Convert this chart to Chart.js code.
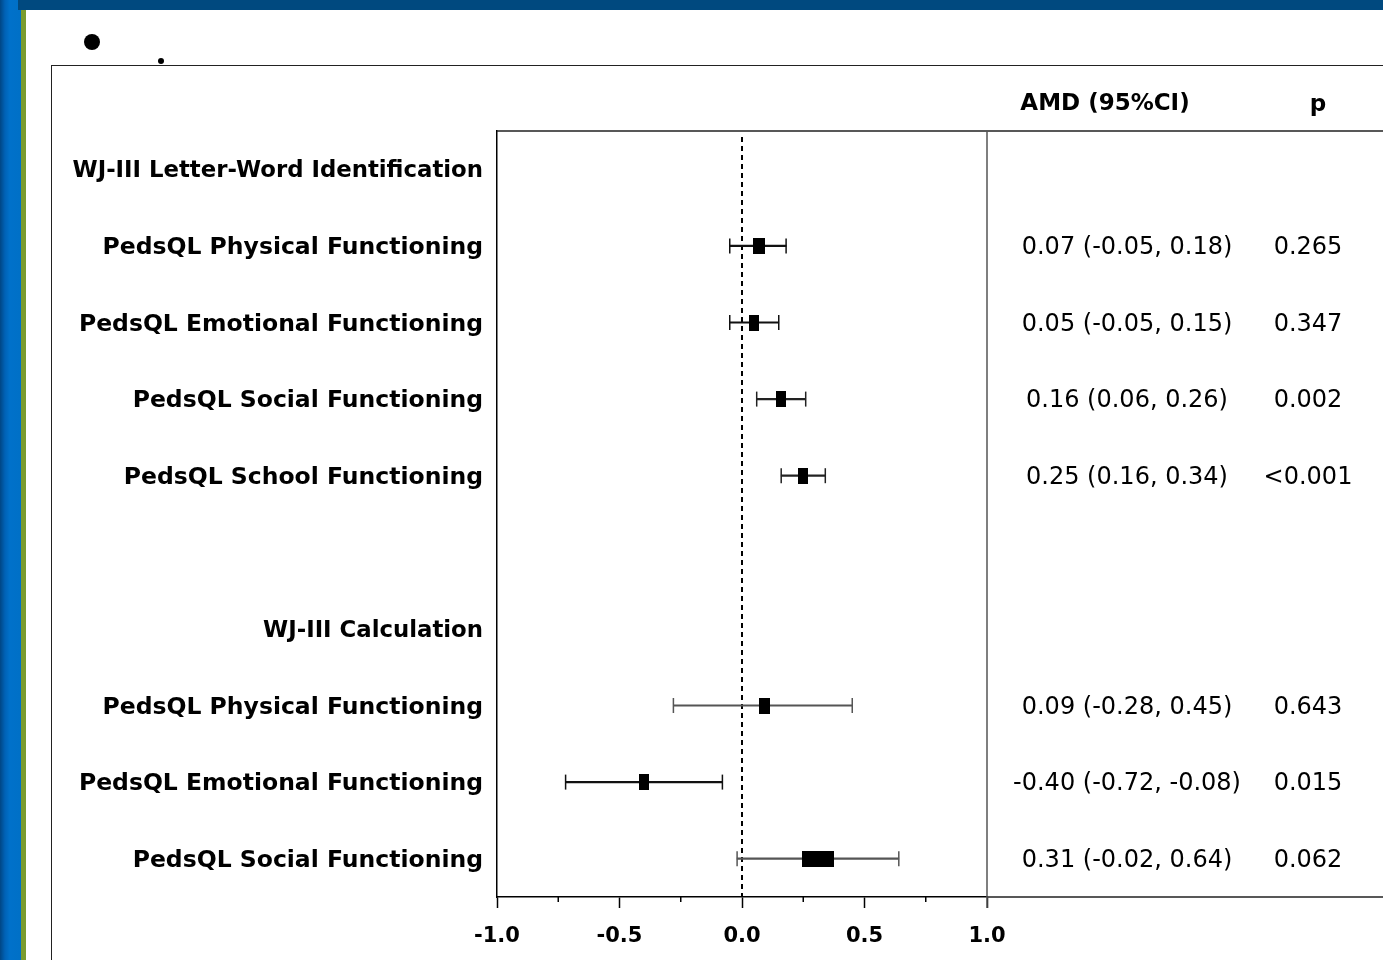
<!DOCTYPE html>
<html>
<head>
<meta charset="utf-8">
<script src="https://cdn.jsdelivr.net/npm/chart.js@4.4.1/dist/chart.umd.min.js"></script>
<style>
  body { margin: 0; background: #fff; overflow: hidden; width: 1383px; height: 960px; position: relative; }
  .franja { position: absolute; left: 0; top: 0; width: 21px; height: 960px; background: linear-gradient(to right, #004684 0px, #0062b6 5px, #0071ca 10px, #0070c6 21px); }
  .verde { position: absolute; left: 21px; top: 10px; width: 5px; height: 950px; background: #7b9c2f; }
  .barra { position: absolute; left: 18px; top: 0; width: 1365px; height: 10px; background: #00497f; }
  .punto { position: absolute; background: #000; border-radius: 50%; }
  .caja { position: absolute; left: 51px; top: 65px; width: 1400px; height: 1000px; border: 1.5px solid #222; box-sizing: border-box; }
  canvas { position: absolute; left: 0; top: 0; }
</style>
</head>
<body>
<div class="franja"></div>
<div class="verde"></div>
<div class="barra"></div>
<div class="punto" style="left:84px; top:34px; width:16px; height:16px;"></div>
<div class="punto" style="left:158px; top:58px; width:6px; height:6px;"></div>
<div class="caja"></div>
<canvas id="forest" width="1383" height="960"></canvas>

<script>
// rows of the forest plot (top to bottom)
const rowLabels = [
  'WJ-III Letter-Word Identification',
  'PedsQL Physical Functioning',
  'PedsQL Emotional Functioning',
  'PedsQL Social Functioning',
  'PedsQL School Functioning',
  '',
  'WJ-III Calculation',
  'PedsQL Physical Functioning',
  'PedsQL Emotional Functioning',
  'PedsQL Social Functioning'
]
const amd    = [null, 0.07, 0.05, 0.16, 0.25, null, null, 0.09, -0.40, 0.31]
const ciLow  = [null, -0.05, -0.05, 0.06, 0.16, null, null, -0.28, -0.72, -0.02]
const ciHigh = [null, 0.18, 0.15, 0.26, 0.34, null, null, 0.45, -0.08, 0.64]
const pValues = ['', '0.265', '0.347', '0.002', '<0.001', '', '', '0.643', '0.015', '0.062']
const xTicks = [-1, -0.75, -0.5, -0.25, 0, 0.25, 0.5, 0.75, 1]

// box width per row (study weight), whisker colour
const boxWidth = [1, 12, 10, 10, 10, 1, 1, 11, 10, 32]
const lineColor = ['#000', '#111', '#111', '#222', '#222', '#000', '#000', '#555', '#111', '#555']

const boxImage = (w) => {
  const c = document.createElement('canvas')
  c.width = w
  c.height = 16
  const g = c.getContext('2d')
  g.fillStyle = '#000'
  g.fillRect(0, 0, w, 16)
  return c
}

const isMajor = (v) => Math.abs(v * 2 - Math.round(v * 2)) < 1e-9
const fuente = '"DejaVu Sans", sans-serif'

// lines, columns and minor ticks around the plot
const extras = {
  id: 'extras',
  beforeDatasetsDraw(chart) {
    const { ctx, chartArea, scales } = chart
    const x = scales.x
    ctx.save()
    // zero line
    ctx.strokeStyle = '#000'
    ctx.lineWidth = 2
    ctx.setLineDash([5, 4])
    ctx.beginPath()
    ctx.moveTo(x.getPixelForValue(0), chartArea.top + 6)
    ctx.lineTo(x.getPixelForValue(0), chartArea.bottom)
    ctx.stroke()
    ctx.restore()
  },
  afterDraw(chart) {
    const { ctx, chartArea, scales } = chart
    const x = scales.x, y = scales.y
    ctx.save()
    ctx.strokeStyle = '#222'
    ctx.lineWidth = 1.5
    ctx.beginPath()
    ctx.moveTo(chartArea.left, chartArea.top)
    ctx.lineTo(1383, chartArea.top)
    ctx.moveTo(chartArea.right, chartArea.bottom)
    ctx.lineTo(1383, chartArea.bottom)
    ctx.stroke()

    ctx.strokeStyle = '#555'
    ctx.beginPath()
    ctx.moveTo(x.getPixelForValue(1), chartArea.top)
    ctx.lineTo(x.getPixelForValue(1), chartArea.bottom + 11)
    ctx.stroke()

    // minor ticks
    ctx.strokeStyle = '#000'
    ctx.beginPath()
    xTicks.filter(v => !isMajor(v)).forEach(v => {
      const px = x.getPixelForValue(v)
      ctx.moveTo(px, chartArea.bottom)
      ctx.lineTo(px, chartArea.bottom + 5)
    })
    ctx.stroke()

    // table columns
    ctx.fillStyle = '#000'
    ctx.textAlign = 'center'
    ctx.textBaseline = 'middle'
    ctx.font = 'bold 23px ' + fuente
    ctx.fillText('AMD (95%CI)', 1105, 104)
    ctx.fillText('p', 1318, 105)
    ctx.font = '24px ' + fuente
    amd.forEach((v, i) => {
      if (v === null) return
      const py = y.getPixelForValue(i) + 2
      ctx.fillText(`${v.toFixed(2)} (${ciLow[i].toFixed(2)}, ${ciHigh[i].toFixed(2)})`, 1127, py)
      ctx.fillText(pValues[i], 1308, py)
    })
    ctx.restore()
  }
}

const chart = new Chart(document.getElementById('forest'), {
  type: 'bar',
  data: {
    labels: rowLabels,
    datasets: [
      {
        // boxes
        type: 'line',
        data: amd,
        showLine: false,
        pointStyle: boxWidth.map(boxImage),
        pointBorderWidth: 0,
        order: 0
      },
      {
        // lower whisker cap
        type: 'line',
        data: ciLow,
        showLine: false,
        pointStyle: 'line',
        pointRotation: 90,
        pointRadius: 7.5,
        pointBorderWidth: 1.5,
        pointBorderColor: lineColor,
        order: 1
      },
      {
        // upper whisker cap
        type: 'line',
        data: ciHigh,
        showLine: false,
        pointStyle: 'line',
        pointRotation: 90,
        pointRadius: 7.5,
        pointBorderWidth: 1.5,
        pointBorderColor: lineColor,
        order: 1
      },
      {
        // confidence intervals
        data: amd.map((v, i) => v === null ? null : [ciLow[i], ciHigh[i]]),
        backgroundColor: lineColor,
        barThickness: 1.5,
        order: 2
      }
    ]
  },
  options: {
    indexAxis: 'y',
    responsive: false,
    animation: false,
    events: [],
    layout: { padding: { top: 131, right: 396, left: 0, bottom: 0 } },
    plugins: { legend: { display: false }, tooltip: { enabled: false } },
    scales: {
      x: {
        type: 'linear',
        min: -1,
        max: 1,
        afterBuildTicks: (s) => { s.ticks = xTicks.map(v => ({ value: v })) },
        afterFit: (s) => { s.height = 63 },
        ticks: {
          autoSkip: false,
          maxRotation: 0,
          padding: 16,
          color: '#000',
          font: { family: fuente, size: 21, weight: 'bold' },
          callback: (v) => isMajor(v) ? Number(v).toFixed(1) : ''
        },
        grid: {
          drawOnChartArea: false,
          tickLength: 11,
          tickWidth: 1.5,
          tickColor: (c) => isMajor(c.tick.value) ? '#000' : 'rgba(0,0,0,0)'
        },
        border: { color: '#000', width: 1.5 }
      },
      y: {
        type: 'category',
        offset: true,
        afterFit: (s) => { s.width = 497 },
        ticks: {
          autoSkip: false,
          padding: 14,
          labelOffset: 2,
          color: '#000',
          // group headings slightly smaller than the item rows
          font: (c) => ({
            family: fuente,
            weight: 'bold',
            size: amd[c.index] === null ? 22.8 : 23.5
          })
        },
        grid: { display: false, drawTicks: false },
        border: { color: '#000', width: 1.5 }
      }
    }
  },
  plugins: [extras]
})
</script>
</body>
</html>
